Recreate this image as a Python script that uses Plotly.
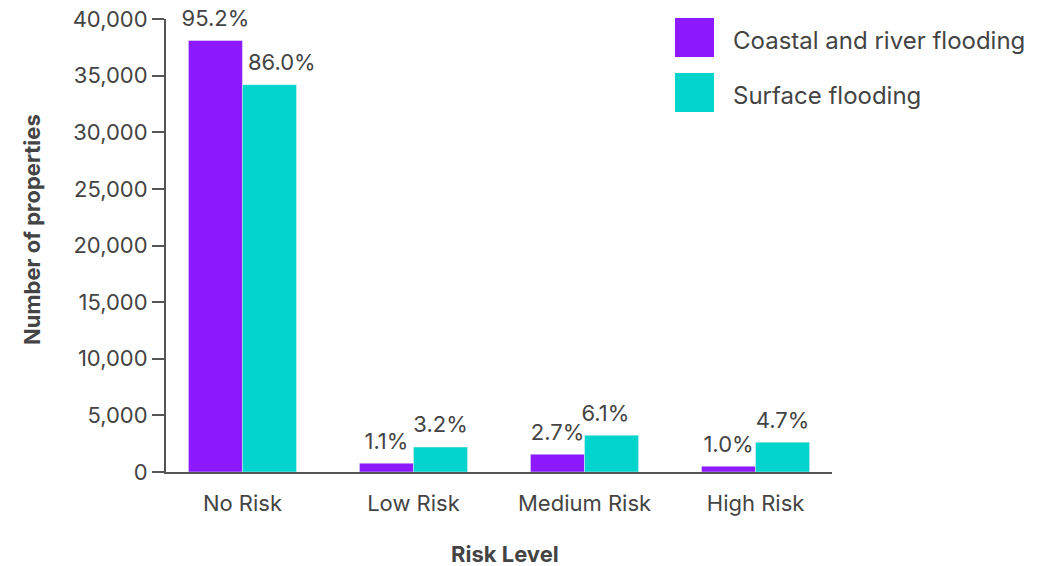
import plotly.graph_objects as go

categories = ["No Risk", "Low Risk", "Medium Risk", "High Risk"]
coastal_values = [38100, 780, 1570, 510]
surface_values = [34200, 2200, 3250, 2630]
coastal_labels = ["95.2%", "1.1%", "2.7%", "1.0%"]
surface_labels = ["86.0%", "3.2%", "6.1%", "4.7%"]
series_names = ["Coastal and river flooding", "Surface flooding"]
x_title = "Risk Level"
y_title = "Number of properties"
y_ticks = [0, 5000, 10000, 15000, 20000, 25000, 30000, 35000, 40000]

PURPLE = "#8D1AFE"
TEAL = "#00D4CD"
TXT = "#444444"
FONT = "Inter"
FS = 22
NB = "\u00a0"

# small nudges so labels don't collide (as in the reference)
surface_text = list(surface_labels)
surface_text[0] = NB * 4 + surface_text[0]
surface_text[2] = surface_text[2] + NB * 2

fig = go.Figure()
for name, vals, labels, col, grp in [
    (series_names[0], coastal_values, coastal_labels, PURPLE, "c"),
    (series_names[1], surface_values, surface_text, TEAL, "s"),
]:
    fig.add_trace(go.Bar(x=categories, y=vals, name=name, marker_color=col,
                         offsetgroup=grp, showlegend=False, hoverinfo="skip"))
    fig.add_trace(go.Scatter(x=categories, y=vals, mode="markers+text", text=labels,
                             textposition="top center", offsetgroup=grp,
                             marker=dict(size=13, opacity=0, color=col),
                             textfont=dict(size=FS, color=TXT, family=FONT),
                             cliponaxis=False, showlegend=False, hoverinfo="skip"))

plot_top, plot_bot = 19, 472
def py(pix):
    return (plot_bot - pix) / (plot_bot - plot_top)
def px(pix):
    return (pix - 166) / 666

# custom legend (large squares)
colors = [PURPLE, TEAL]
centers = [37.5, 92.5]
for name, c, cy in zip(series_names, colors, centers):
    fig.add_shape(type="rect", xref="paper", yref="paper",
                  x0=px(675), x1=px(714), y0=py(cy + 19.5), y1=py(cy - 19.5),
                  fillcolor=c, line_width=0)
    fig.add_annotation(xref="paper", yref="paper", x=px(731), y=py(cy + 3),
                       text=name, showarrow=False, xanchor="left", yanchor="middle",
                       font=dict(size=24, color=TXT, family=FONT))

# axis titles
fig.add_annotation(xref="paper", yref="paper", x=px(505), y=py(554),
                   text=f"<b>{x_title}</b>", showarrow=False,
                   xanchor="center", yanchor="middle",
                   font=dict(size=FS, color=TXT, family=FONT))
fig.add_annotation(xref="paper", yref="paper", x=px(32), y=py(230),
                   text=f"<b>{y_title}</b>", showarrow=False, textangle=-90,
                   xanchor="center", yanchor="middle",
                   font=dict(size=FS, color=TXT, family=FONT))

fig.update_layout(
    width=1043, height=566,
    margin=dict(l=166, r=211, t=plot_top, b=566 - plot_bot, autoexpand=False),
    plot_bgcolor="white", paper_bgcolor="white",
    barmode="group", bargap=0.368, bargroupgap=0,
    scattermode="group", scattergap=0.368,
    font=dict(family=FONT, color=TXT, size=FS),
    xaxis=dict(
        range=[-0.447, 3.447], automargin=False,
        showline=True, linecolor="#555555", linewidth=2,
        ticks="", ticklabelstandoff=11,
        tickfont=dict(size=FS, color=TXT, family=FONT),
        showgrid=False,
    ),
    yaxis=dict(
        range=[0, 40000], tickvals=y_ticks, tickformat=",", automargin=False,
        showline=True, linecolor="#555555", linewidth=2,
        ticks="outside", ticklen=12, tickwidth=2, tickcolor="#555555",
        tickfont=dict(size=FS, color=TXT, family=FONT),
        showgrid=False, zeroline=False,
    ),
)

fig.write_html("out.html")
